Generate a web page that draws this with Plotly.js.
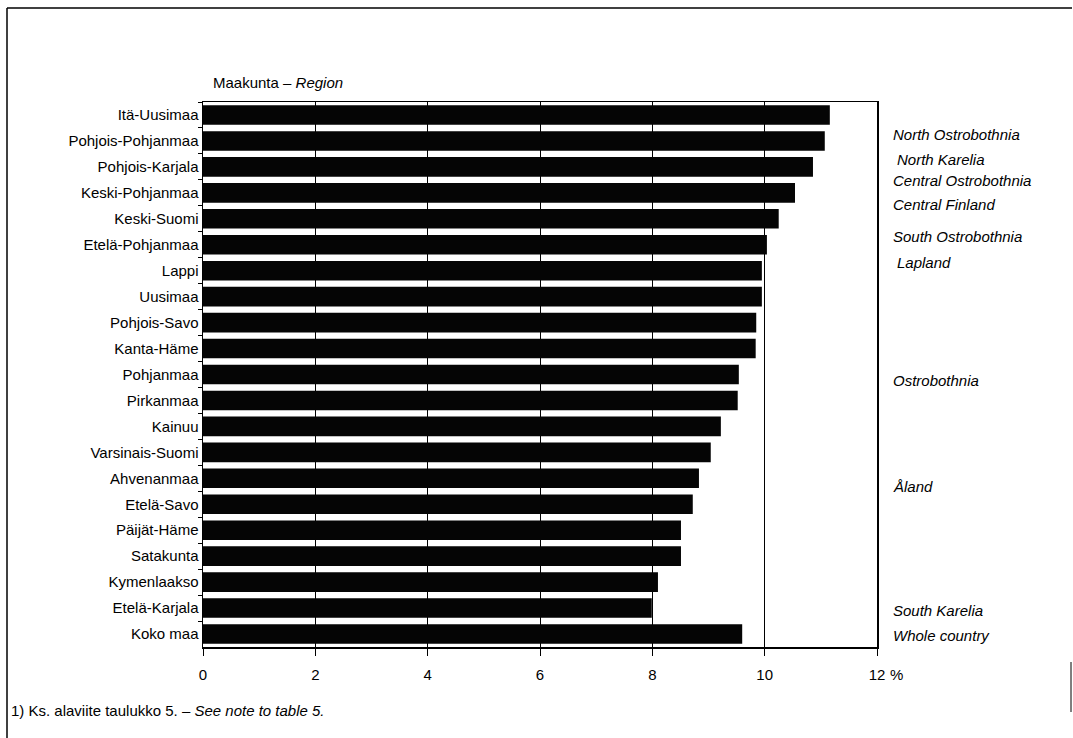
<!DOCTYPE html>
<html>
<head>
<meta charset="utf-8">
<script src="https://cdn.plot.ly/plotly-3.0.1.min.js"></script>
<style>html,body{margin:0;padding:0;background:#fff;}#chart{width:1073px;height:738px;}</style>
</head>
<body>
<div id="chart"></div>
<script>
// Regions (Finnish names), top to bottom
const categories = ['Itä-Uusimaa','Pohjois-Pohjanmaa','Pohjois-Karjala','Keski-Pohjanmaa','Keski-Suomi',
  'Etelä-Pohjanmaa','Lappi','Uusimaa','Pohjois-Savo','Kanta-Häme','Pohjanmaa','Pirkanmaa','Kainuu',
  'Varsinais-Suomi','Ahvenanmaa','Etelä-Savo','Päijät-Häme','Satakunta','Kymenlaakso','Etelä-Karjala','Koko maa'];
// Values, %
const values = [11.16,11.07,10.86,10.54,10.25,10.04,9.95,9.95,9.85,9.84,9.54,9.52,9.22,9.04,8.83,8.72,8.51,8.51,8.10,7.99,9.60];
// English names shown on the right, and the region each belongs to
const englishLabels = ['North Ostrobothnia','North Karelia','Central Ostrobothnia','Central Finland',
  'South Ostrobothnia','Lapland','Ostrobothnia','Åland','South Karelia','Whole country'];
const englishFor = ['Pohjois-Pohjanmaa','Pohjois-Karjala','Keski-Pohjanmaa','Keski-Suomi',
  'Etelä-Pohjanmaa','Lappi','Pohjanmaa','Ahvenanmaa','Etelä-Karjala','Koko maa'];
// X tick values and labels
const xTickVals = [0,2,4,6,8,10,12];
const xTickText = ['0','2','4','6','8','10','12'];

// placement styling (pixel shifts of the right-hand labels)
const enShift = [6,7,12,14,8,8,-5.5,-8,-2,-1];
const enIndent = [0,4,0,0,0,4,0,0,0,0];

const FONT = 'Liberation Sans, Arial, Helvetica, sans-serif';
const L = 203, R = 877, T = 102, B = 647;
const pw = R - L, ph = B - T;
const px = x => (x - L) / pw;
const py = y => (B - y) / ph;

const annotations = englishLabels.map((t, i) => ({
  text: '<i>' + t + '</i>', xref: 'paper', yref: 'y', x: px(891 + enIndent[i]), y: englishFor[i],
  xanchor: 'left', yanchor: 'middle', yshift: enShift[i], showarrow: false,
  font: {family: FONT, size: 15, color: '#000'}
}));
annotations.push({
  text: 'Maakunta – <i>Region</i>', xref: 'paper', yref: 'paper', x: px(211), y: py(83),
  xanchor: 'left', yanchor: 'middle', showarrow: false, font: {family: FONT, size: 15, color: '#000'}
});
annotations.push({
  text: '1) Ks. alaviite taulukko 5. – <i>See note to table 5.</i>', xref: 'paper', yref: 'paper',
  x: px(9), y: py(710), xanchor: 'left', yanchor: 'middle', showarrow: false,
  font: {family: FONT, size: 15, color: '#000'}
});
annotations.push({
  text: '%', xref: 'x', yref: 'paper', x: xTickVals[xTickVals.length - 1], y: py(674),
  xanchor: 'left', yanchor: 'middle', xshift: 11, showarrow: false,
  font: {family: FONT, size: 15, color: '#000'}
});

const shapes = [
  {type: 'line', xref: 'paper', yref: 'paper', x0: px(7), x1: px(7), y0: py(8), y1: py(745), line: {color: '#000', width: 1.5}},
  {type: 'line', xref: 'paper', yref: 'paper', x0: px(7), x1: px(1072), y0: py(8), y1: py(8), line: {color: '#000', width: 1.5}},
  {type: 'line', xref: 'paper', yref: 'paper', x0: px(1071), x1: px(1071), y0: py(662), y1: py(712), line: {color: '#000', width: 1}}
];

const trace = {
  type: 'bar', orientation: 'h', x: values, y: categories,
  marker: {color: '#050505', line: {width: 0}}, hoverinfo: 'x+y'
};

const layout = {
  width: 1073, height: 738,
  margin: {l: L, r: 1073 - R, t: T, b: 738 - B, pad: 0},
  paper_bgcolor: '#fff', plot_bgcolor: '#fff',
  showlegend: false, bargap: 0.245,
  font: {family: FONT, size: 15, color: '#000'},
  xaxis: {
    range: [0, 12], tickvals: xTickVals, ticktext: xTickText,
    showgrid: true, gridcolor: '#000', gridwidth: 1,
    showline: true, linecolor: '#000', linewidth: 1.5, mirror: true,
    ticks: 'outside', ticklen: 7, tickcolor: '#000', tickwidth: 1,
    ticklabelstandoff: 6, zeroline: false, fixedrange: true,
    tickfont: {family: FONT, size: 15, color: '#000'}
  },
  yaxis: {
    type: 'category', categoryorder: 'array', categoryarray: categories, autorange: 'reversed',
    showgrid: false, showline: true, linecolor: '#000', linewidth: 1.5, mirror: true,
    ticks: 'outside', tickson: 'boundaries', ticklen: 4, tickcolor: '#000', tickwidth: 1,
    tickfont: {family: FONT, size: 15, color: '#000'}, fixedrange: true
  },
  annotations: annotations,
  shapes: shapes
};

Plotly.newPlot('chart', [trace], layout, {displayModeBar: false, staticPlot: true});
</script>
</body>
</html>
